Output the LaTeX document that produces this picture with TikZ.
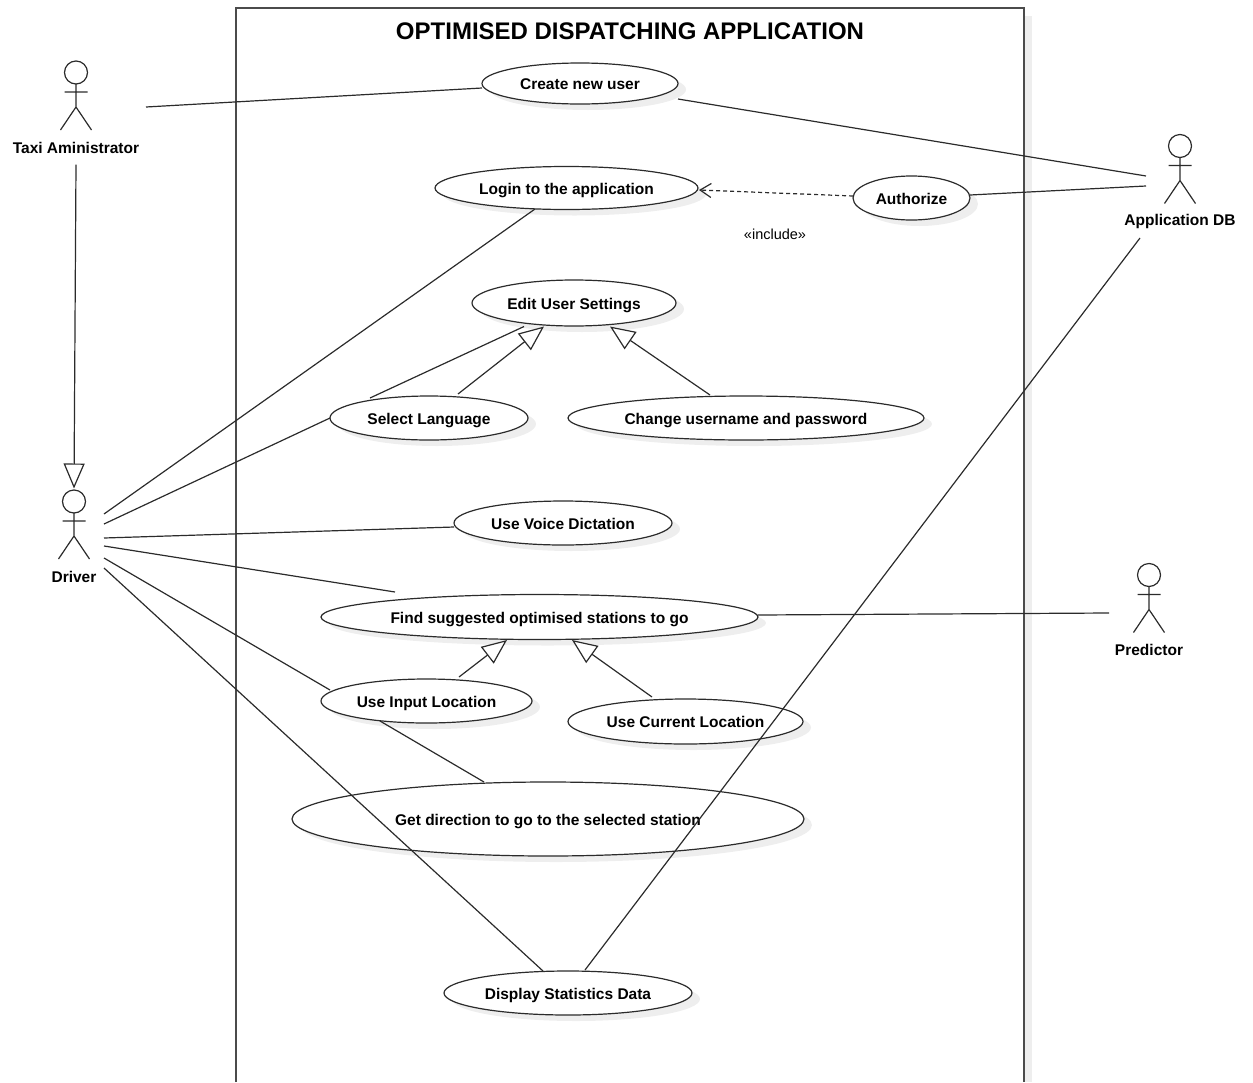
\documentclass[tikz,border=0pt]{standalone}
\usepackage{fontspec}
\setmainfont{Liberation Sans}
\usetikzlibrary{arrows.meta,shapes.geometric}
\definecolor{ink}{HTML}{2B2B2B}
\definecolor{softgrey}{HTML}{EEEEEE}
\tikzset{
  usecase/.style={ellipse,draw=ink,line width=1.2pt,fill=white,inner sep=0pt,text height=15pt,text depth=3pt,font=\fontsize{15.5}{18}\selectfont\bfseries,text=black},
  caseshadow/.style={ellipse,fill=softgrey,inner sep=0pt},
  actorname/.style={font=\fontsize{15.5}{18}\selectfont\bfseries,text=black,inner sep=0pt},
  actorport/.style={inner sep=0pt,minimum size=0pt},
  link/.style={draw=ink,line width=1.2pt},
  gen/.style={link,-{Triangle[open,fill=white,length=25pt,width=21pt,line width=1.2pt]}},
  dep/.style={link,dash pattern=on 4pt off 3pt,-{Straight Barb[length=11pt,width=14pt,line width=1.2pt]}},
  actor/.pic={
    \draw[link] (0,0) circle (11.5pt);
    \draw[link] (0,11.5) -- (0,34.5) (-11.5,19.5) -- (11.5,19.5) (-15.5,57.5) -- (0,34.5) -- (15.5,57.5);
  }
}
\newcommand{\ucase}[6]{% name, x, y, w, h, text
  \node[caseshadow,minimum width=#4pt,minimum height=#5pt] at (#2+8,#3+6) {};
  \node[usecase,minimum width=#4pt,minimum height=#5pt] (#1) at (#2,#3) {#6};
}
\begin{document}
\begin{tikzpicture}[x=1pt,y=-1pt]
\useasboundingbox (0,0) rectangle (1253,1082);
% system boundary
\fill[softgrey] (1024,16) rectangle (1032,1082);
\draw[draw=ink!85,line width=1.6pt] (236,1082) -- (236,8) -- (1024,8) -- (1024,1082);
\node[font=\fontsize{24}{30}\selectfont\bfseries,text=black,inner sep=0pt] (title) at (630,31) {OPTIMISED DISPATCHING APPLICATION};

% actors
\pic at (76,72.5) {actor};
\pic at (74,501.5) {actor};
\pic at (1180,146) {actor};
\pic at (1149,575) {actor};
\node[actorport] (taxi) at (76,72.5) {};
\node[actorport] (driver) at (74,501.5) {};
\node[actorport] (appdb) at (1180,146) {};
\node[actorport] (predictor) at (1149,575) {};
\node[actorname] (taxilabel) at (76,148) {Taxi Aministrator};
\node[actorname] (driverlabel) at (74,576.5) {Driver};
\node[actorname] (appdblabel) at (1180,221.5) {Application DB};
\node[actorname] (predictorlabel) at (1149,650) {Predictor};

\ucase{create}{580}{83.5}{196}{41}{Create new user}
\ucase{login}{566.5}{188}{263}{43}{Login to the application}
\ucase{authorize}{911.5}{198}{117}{44}{Authorize}
\ucase{edit}{574}{303}{204}{46}{Edit User Settings}
\ucase{select}{429}{418}{198}{44}{Select Language}
\ucase{change}{746}{418}{356}{44}{Change username and password}
\ucase{voice}{563}{523}{218}{44}{Use Voice Dictation}
\ucase{find}{539.5}{617}{437}{45}{Find suggested optimised stations to go}
\ucase{input}{426.5}{701}{211}{44}{Use Input Location}
\ucase{current}{685.5}{721.5}{235}{45}{Use Current Location}
\ucase{direction}{548}{819}{512}{74}{Get direction to go to the selected station}
\ucase{display}{568}{993}{248}{44}{Display Statistics Data}

\node[font=\fontsize{14.5}{18}\selectfont,text=black,inner sep=0pt] (inc) at (775,234) {«include»};

\draw[link] ([shift={(70,34.5)}]taxi.center) -- ([shift={(-98,4.5)}]create.center);
\draw[link] ([shift={(98,15.5)}]create.center) -- ([shift={(-34,30)}]appdb.center);
\draw[link] ([shift={(58.5,-3)}]authorize.center) -- ([shift={(-34,40)}]appdb.center);
\draw[dep] ([shift={(-58.5,-2)}]authorize.center) -- ([shift={(132.5,2)}]login.center);
\draw[link] ([shift={(-31.5,21)}]login.center) -- ([shift={(30,12.5)}]driver.center);
\draw[link] ([shift={(-99,0)}]select.center) -- ([shift={(30,22.5)}]driver.center);
\draw[link] ([shift={(-59,-20)}]select.center) -- ([shift={(-50,23.5)}]edit.center);
\draw[gen] ([shift={(29,-24)}]select.center) -- ([shift={(-30,23.5)}]edit.center);
\draw[gen] ([shift={(-36,-23)}]change.center) -- ([shift={(36,23.5)}]edit.center);
\draw[link] ([shift={(-109,4)}]voice.center) -- ([shift={(30,36.5)}]driver.center);
\draw[link] ([shift={(-144.5,-25)}]find.center) -- ([shift={(30,44.5)}]driver.center);
\draw[link] ([shift={(-96.5,-11)}]input.center) -- ([shift={(30,56.5)}]driver.center);
\draw[link] ([shift={(-25,-22)}]display.center) -- ([shift={(30,66.5)}]driver.center);
\draw[gen] ([shift={(32.5,-24)}]input.center) -- ([shift={(-32.5,23)}]find.center);
\draw[gen] ([shift={(-33.5,-24.5)}]current.center) -- ([shift={(32.5,23)}]find.center);
\draw[link] ([shift={(218.5,-2)}]find.center) -- ([shift={(-40,38)}]predictor.center);
\draw[link] ([shift={(-46.5,20)}]input.center) -- ([shift={(-64,-37)}]direction.center);
\draw[link] ([shift={(17,-23)}]display.center) -- ([shift={(-40,92)}]appdb.center);
\draw[gen] ([shift={(0,92)}]taxi.center) -- ([shift={(0,-13)}]driver.center);
\end{tikzpicture}
\end{document}
